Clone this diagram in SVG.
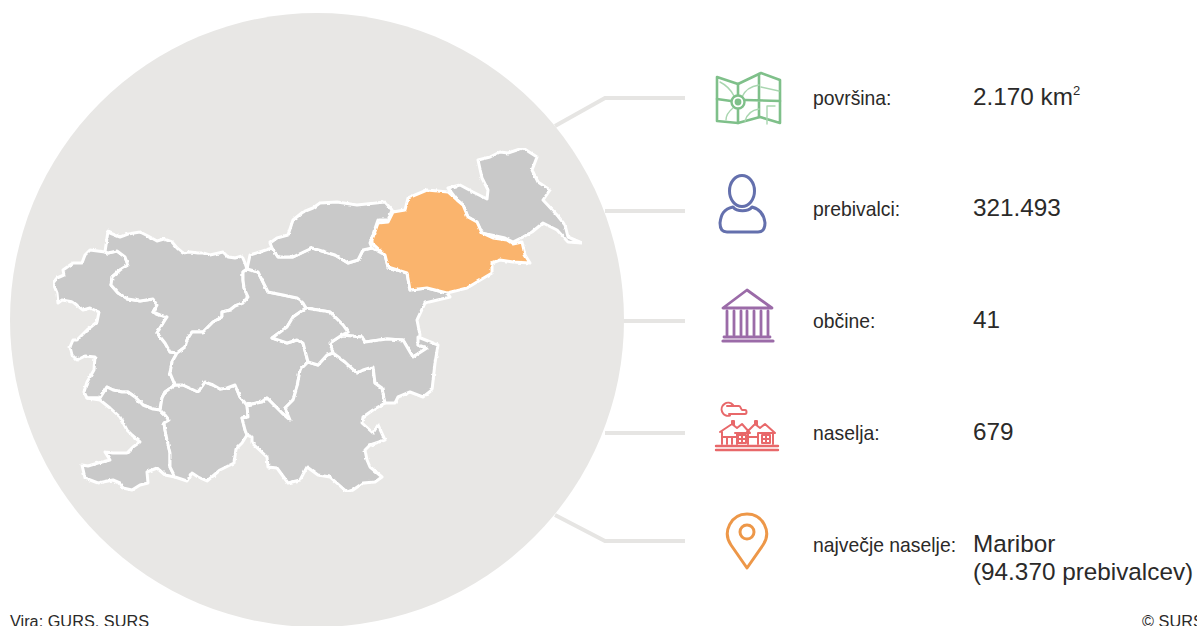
<svg xmlns="http://www.w3.org/2000/svg" width="1197" height="626" viewBox="0 0 1197 626">
<defs>
<filter id="rough" x="0" y="0" width="1" height="1" filterUnits="objectBoundingBox" color-interpolation-filters="sRGB">
<feTurbulence type="fractalNoise" baseFrequency="0.22" numOctaves="2" seed="4" result="n"/>
<feDisplacementMap in="SourceGraphic" in2="n" scale="2.6" xChannelSelector="R" yChannelSelector="G"/>
<feGaussianBlur stdDeviation="0.35"/>
</filter>
</defs>
<style>
.r{fill:#c9c9c9;stroke:#fff;stroke-width:3;stroke-linejoin:round}
.c{fill:none;stroke:#e6e5e3;stroke-width:4}
.l{font:19.35px "Liberation Sans",Arial,sans-serif;fill:#2b2a29}
.v{font:24.3px "Liberation Sans",Arial,sans-serif;fill:#2b2a29}
.f{font:16.3px "Liberation Sans",Arial,sans-serif;fill:#2b2a29}
.i{fill:none;stroke-linejoin:round;stroke-linecap:round}
</style>
<rect width="1197" height="626" fill="#fff"/>
<g id="connectors">
<path class="c" d="M555 126L605 98H685"/>
<path class="c" d="M605 211H685"/>
<path class="c" d="M622 321H685"/>
<path class="c" d="M605 433H685"/>
<path class="c" d="M555 515L605 541H685"/>
</g>
<circle id="backdrop" cx="317" cy="320" r="307" fill="#e8e7e5"/>
<g id="map" filter="url(#rough)">
<path id="goriska" class="r" d="M105 252L90 250L85 255L82 263L73 263L63 270L64 275L57 278L53 283L57 293L58 303L62 300L73 302L83 310L90 308L99 312L97 322L87 330L77 340L73 340L70 347L72 355L77 360L85 356L95 357L94 370L87 382L84 392L87 398L100 398L107 387L113 390L122 392L128 392L135 397L143 405L153 409L160 410L162 398L165 392L175 385L170 373L172 362L177 353L170 352L165 343L157 333L165 320L167 317L160 315L153 312L157 305L153 299L140 301L128 299L118 293L111 285L112 277L120 270L128 265L125 257L117 251L108 253Z"/>
<path id="gorenjska" class="r" d="M108 231L105 252L108 253L117 251L125 257L128 265L120 270L112 277L111 285L118 293L128 299L140 301L153 299L157 305L153 312L160 315L167 317L165 320L157 333L165 343L170 352L177 353L185 347L187 340L192 332L203 332L207 328L213 322L222 317L222 312L230 310L235 306L243 303L248 297L244 288L243 280L243 272L247 269L245 263L242 256L235 258L228 257L223 252L210 255L203 253L198 253L190 252L183 253L177 248L172 242L164 239L157 241L148 236L140 232L128 234L120 237L110 233Z"/>
<path id="obalno" class="r" d="M87 398L100 400L110 408L120 417L127 430L132 435L140 442L133 447L127 453L113 453L105 452L110 460L98 463L88 466L82 465L85 478L98 483L113 480L120 483L123 488L132 490L140 485L148 483L147 472L157 468L165 475L175 477L170 467L170 453L167 440L165 430L164 423L169 420L165 415L160 410L153 409L143 405L135 397L128 392L122 392L113 390L107 387L100 398Z"/>
<path id="notranjska" class="r" d="M160 410L162 398L165 392L175 385L183 385L198 392L205 382L213 385L220 389L227 388L235 385L240 397L247 405L248 417L242 418L245 430L247 435L242 443L236 449L234 463L220 470L207 481L198 477L192 473L187 481L175 477L170 467L170 453L167 440L165 430L164 423L169 420L165 415Z"/>
<path id="osrednja" class="r" d="M177 353L185 347L187 340L192 332L203 332L207 328L213 322L222 317L222 312L230 310L235 306L243 303L248 297L244 288L243 280L243 272L247 269L258 272L262 280L268 292L283 295L297 298L303 303L306 308L293 317L287 327L272 338L287 343L297 340L303 343L308 362L300 370L297 387L293 400L285 408L290 420L282 413L267 398L262 402L247 405L240 397L235 385L227 388L220 389L213 385L205 382L198 392L183 385L175 385L170 373L172 362Z"/>
<path id="jugovzhodna" class="r" d="M247 405L262 402L267 398L282 413L290 420L285 408L293 400L297 387L300 370L308 362L318 365L327 355L333 353L345 362L357 373L363 370L373 367L375 383L382 388L385 403L373 410L363 417L362 423L373 433L378 425L385 440L370 445L365 450L367 460L370 467L382 477L375 482L363 483L353 490L347 492L330 477L318 475L307 467L300 480L288 483L277 468L268 467L267 457L252 443L252 437L247 435L245 430L242 418L248 417Z"/>
<path id="savinjska" class="r" d="M250 255L272 248L278 257L293 257L312 248L335 255L348 263L358 260L363 250L372 248L385 255L388 267L407 273L410 290L427 288L447 293L450 297L425 303L417 320L420 335L418 345L427 348L413 357L403 340L387 339L365 342L362 337L342 335L348 332L343 325L330 312L306 308L303 303L297 298L283 295L268 292L262 280L258 272L247 269Z"/>
<path id="posavska" class="r" d="M333 353L330 343L342 335L362 337L365 342L387 339L403 340L410 352L413 357L427 348L418 345L418 337L438 345L435 363L432 390L423 397L410 392L398 397L395 403L385 403L382 388L375 383L373 367L363 370L357 373L345 362Z"/>
<path id="zasavska" class="r" d="M272 338L287 327L293 317L306 308L330 312L343 325L348 332L342 335L330 343L333 353L327 355L318 365L308 362L303 343L297 340L287 343Z"/>
<path id="koroska" class="r" d="M270 243L277 238L288 235L293 220L303 212L313 208L320 203L337 202L357 205L385 202L392 210L388 220L378 220L370 243L372 248L363 250L358 260L348 263L335 255L312 248L293 257L278 257L272 248Z"/>
<path id="pomurska" class="r" d="M448 188L460 185L473 192L487 199L488 190L482 178L478 160L490 157L500 152L508 153L523 148L537 157L532 170L538 182L550 190L543 200L557 215L565 225L568 237L582 243L568 242L557 230L543 223L532 232L523 237L513 242L505 238L482 233L477 222L468 217L463 205L457 200Z"/>
<path id="podravska" class="r" style="fill:#fab46d" d="M372 240L378 223L388 222L393 212L405 210L408 198L427 190L448 192L457 200L463 205L468 217L477 222L482 233L493 238L507 240L513 244L522 242L525 255L530 263L513 262L500 260L492 263L492 273L477 282L467 288L447 293L427 288L410 290L407 273L388 267L385 255L372 243Z"/>
</g>
<g id="povrsina">
<g class="i" stroke="#7fc08a" stroke-width="2.6"><path d="M717 77L738 84L761 73L780 80V123L760 117L738 123L717 121Z"/><path d="M738 84V123M759 74V117M717 99L731 101M745 100L780 101"/></g>
<g class="i" stroke="#a9d6b0" stroke-width="1.4"><path d="M720 82C728 86 732 92 734 96M742 97C745 90 752 86 759 85M761 87L779 91M733 108C728 112 726 116 726 120M745 121C747 114 752 110 759 109M767 124V106H775"/></g>
<circle cx="738" cy="102" r="6.5" fill="#fff" stroke="#7fc08a" stroke-width="2.4"/>
<circle cx="738" cy="102" r="3.4" fill="#7fc08a"/>
<text class="l" x="813" y="105">površina:</text>
<text class="v" x="973" y="105">2.170 km<tspan font-size="13" dy="-10">2</tspan></text>
</g>
<g id="prebivalci">
<g class="i" stroke="#6470ad" stroke-width="3"><ellipse cx="742" cy="191" rx="12.5" ry="15.5"/><path d="M733 207C724 209 721 214 720 223C720 229 722 232 727 232H758C763 232 765 229 765 223C764 214 760 209 752 207C748 212 737 212 733 207Z"/></g>
<text class="l" x="813" y="216">prebivalci:</text>
<text class="v" x="973" y="216">321.493</text>
</g>
<g id="obcine">
<g class="i" stroke="#9b6ba8" stroke-width="2.8"><path d="M747 290L723 308H772Z"/><path d="M727 311V335M734 311V335M741 311V335M747 311V335M754 311V335M761 311V335M768 311V335M724 337H770"/><path stroke-width="3.2" d="M723 341H773"/></g>
<text class="l" x="813" y="328">občine:</text>
<text class="v" x="973" y="328">41</text>
</g>
<g id="naselja">
<g class="i" stroke="#e8686a" stroke-width="2"><path d="M733 405A6.5 6.5 0 1 0 730 415.500"/><path d="M727 406H739C741 406 741 410 742 410H745C747 410 747 414 745 414H729"/>
<path d="M720 432L732 424L737 428L742 424L750 433M735 433H750M747 432L755 424L760 428L765 424L775 433M758 433H775M722 432V444M737 433V444M748 433V444M758 433V444M773 433V444M722 437H737M748 437H758M727 438V444M732 438V444M738 435H746V443H738ZM742 435V443M738 439H746M762 435H770V443H762ZM766 435V443M762 439H770M732 424V421H734V425M755 424V421H757V425"/><path stroke-width="2.4" d="M716 446H778M716 450H778"/></g>
<text class="l" x="813" y="440">naselja:</text>
<text class="v" x="973" y="440">679</text>
</g>
<g id="najvecje">
<g class="i" stroke="#ed9748" stroke-width="3"><path d="M747 568L731 545C722 532 731 514 747 514C763 514 772 532 763 545Z"/><circle cx="747" cy="532" r="7"/></g>
<text class="l" x="813" y="552">največje naselje:</text>
<text class="v" x="973" y="552">Maribor</text>
<text class="v" x="973" y="580">(94.370 prebivalcev)</text>
</g>
<text class="f" x="10" y="627">Vira: GURS, SURS</text>
<text class="f" x="1142" y="627">© SURS</text>
</svg>
